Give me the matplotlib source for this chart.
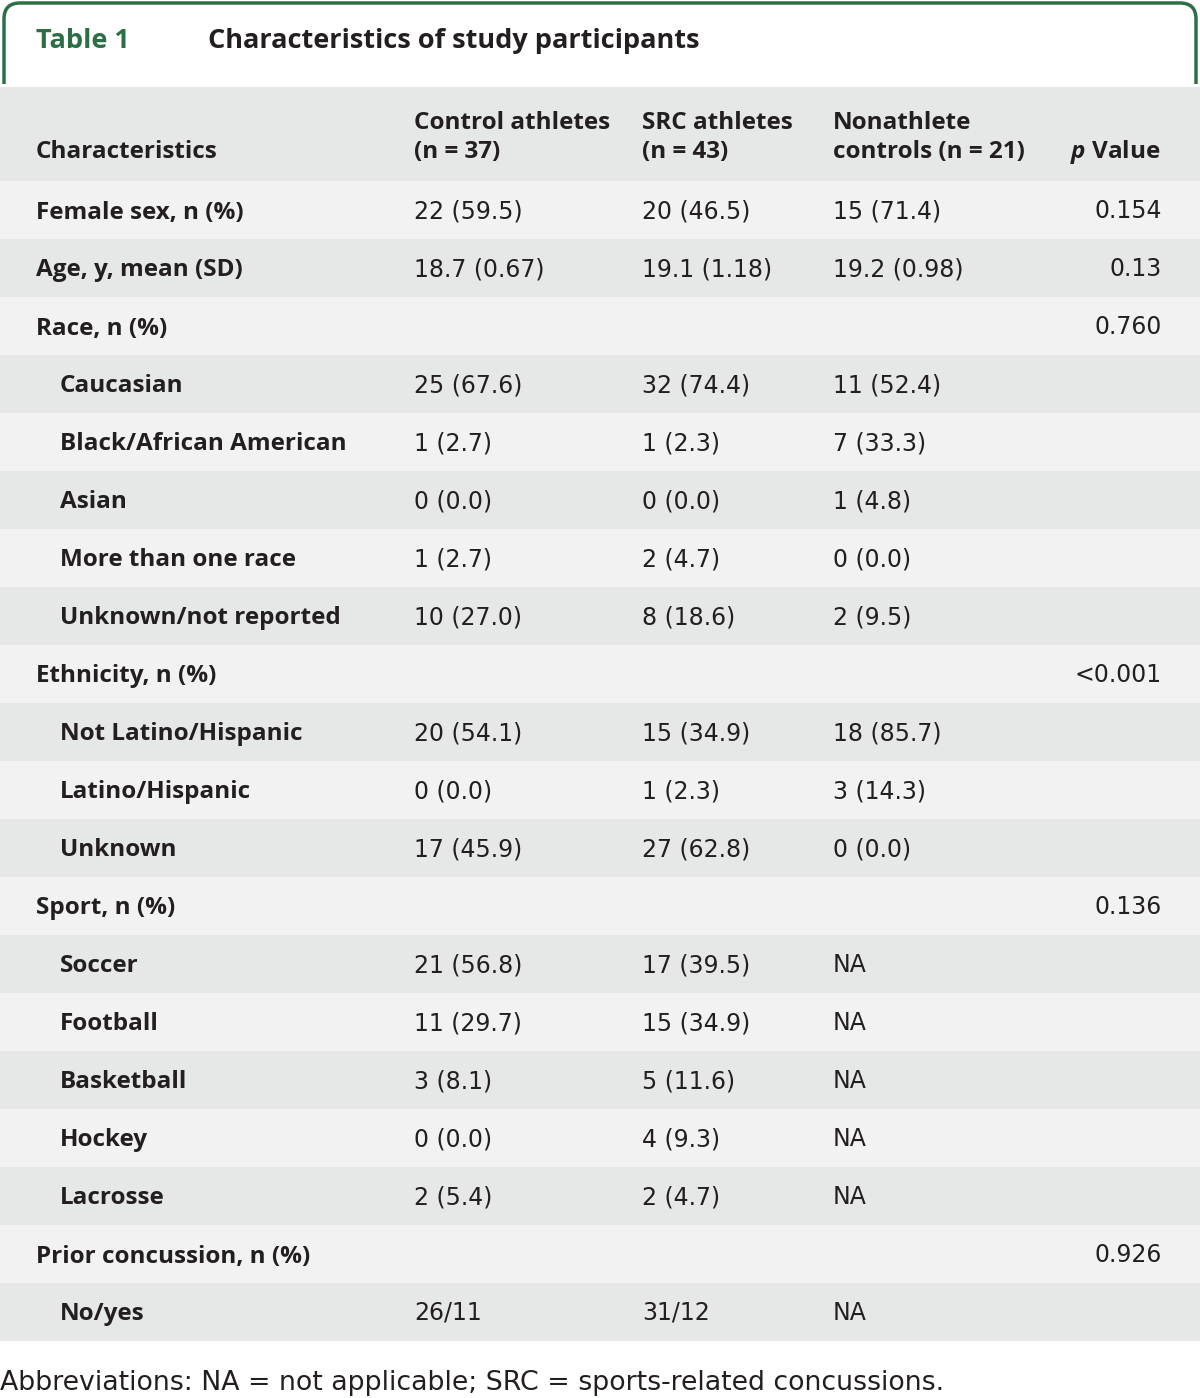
import matplotlib.pyplot as plt
from matplotlib.patches import Rectangle, FancyBboxPatch

title_num = "Table 1"
title_text = "Characteristics of study participants"
col_heads = ["Control athletes\n(n = 37)", "SRC athletes\n(n = 43)", "Nonathlete\ncontrols (n = 21)"]
row_labels = [
    "Female sex, n (%)", "Age, y, mean (SD)", "Race, n (%)", "Caucasian",
    "Black/African American", "Asian", "More than one race", "Unknown/not reported",
    "Ethnicity, n (%)", "Not Latino/Hispanic", "Latino/Hispanic", "Unknown",
    "Sport, n (%)", "Soccer", "Football", "Basketball", "Hockey", "Lacrosse",
    "Prior concussion, n (%)", "No/yes",
]
indented = [False, False, False, True, True, True, True, True,
            False, True, True, True, False, True, True, True, True, True,
            False, True]
control = ["22 (59.5)", "18.7 (0.67)", "", "25 (67.6)", "1 (2.7)", "0 (0.0)", "1 (2.7)",
           "10 (27.0)", "", "20 (54.1)", "0 (0.0)", "17 (45.9)", "", "21 (56.8)",
           "11 (29.7)", "3 (8.1)", "0 (0.0)", "2 (5.4)", "", "26/11"]
src = ["20 (46.5)", "19.1 (1.18)", "", "32 (74.4)", "1 (2.3)", "0 (0.0)", "2 (4.7)",
       "8 (18.6)", "", "15 (34.9)", "1 (2.3)", "27 (62.8)", "", "17 (39.5)",
       "15 (34.9)", "5 (11.6)", "4 (9.3)", "2 (4.7)", "", "31/12"]
nonathlete = ["15 (71.4)", "19.2 (0.98)", "", "11 (52.4)", "7 (33.3)", "1 (4.8)", "0 (0.0)",
              "2 (9.5)", "", "18 (85.7)", "3 (14.3)", "0 (0.0)", "", "NA",
              "NA", "NA", "NA", "NA", "", "NA"]
p_values = ["0.154", "0.13", "0.760", "", "", "", "", "", "<0.001", "", "", "",
            "0.136", "", "", "", "", "", "0.926", ""]
footnote = "Abbreviations: NA = not applicable; SRC = sports-related concussions."

plt.rcParams['mathtext.fontset'] = 'custom'
plt.rcParams['mathtext.it'] = 'Open Sans:italic:bold'

W, H = 1200, 1398
fig = plt.figure(figsize=(W / 100, H / 100), dpi=100)
ax = fig.add_axes([0, 0, 1, 1])
ax.set_xlim(0, W)
ax.set_ylim(H, 0)
ax.axis('off')

green = '#2c6e46'
dark = '#231f20'
light_bg = '#f2f2f2'
dark_bg = '#e6e7e7'
bold_font = 'Open Sans'
reg_font = 'DejaVu Sans'
fs_lab = 17.5
fs_val = 17

# title tab
tab = FancyBboxPatch((4, 3), W - 8, 150, boxstyle="round,pad=0,rounding_size=16",
                     facecolor='white', edgecolor=green, linewidth=2.5)
ax.add_patch(tab)
ax.add_patch(Rectangle((0, 84), W, 80, facecolor='white', edgecolor='none'))
ax.text(36, 41, title_num, color=green, fontsize=19.5, fontweight='bold',
        family=bold_font, va='center')
ax.text(208, 41, title_text, color=dark, fontsize=19.5, fontweight='bold',
        family=bold_font, va='center')

# header
ax.add_patch(Rectangle((0, 87), W, 94, facecolor=dark_bg, edgecolor='none'))
col_x = [414, 642, 833]
ax.text(36, 152, "Characteristics", color=dark, fontsize=fs_lab, fontweight='bold',
        family=bold_font, va='center')
for x, h in zip(col_x, col_heads):
    l1, l2 = h.split('\n')
    ax.text(x, 123, l1, color=dark, fontsize=fs_lab, fontweight='bold',
            family=bold_font, va='center')
    ax.text(x, 152, l2, color=dark, fontsize=fs_lab, fontweight='bold',
            family=bold_font, va='center')
ax.text(1161, 152, r"$p$ Value", color=dark, fontsize=fs_lab, fontweight='bold',
        family=bold_font, va='center', ha='right')

# body rows
top = 181
rh = 58
for i, lab in enumerate(row_labels):
    y0 = top + i * rh
    ax.add_patch(Rectangle((0, y0), W, rh, facecolor=light_bg if i % 2 == 0 else dark_bg,
                           edgecolor='none'))
    yc = y0 + rh / 2 + 1
    ax.text(60 if indented[i] else 36, yc + 1.5, lab, color=dark, fontsize=fs_lab,
            fontweight='bold', family=bold_font, va='center')
    for x, vals in zip(col_x, [control, src, nonathlete]):
        ax.text(x, yc, vals[i], color=dark, fontsize=fs_val, family=reg_font, va='center')
    ax.text(1162, yc, p_values[i], color=dark, fontsize=fs_val, family=reg_font,
            va='center', ha='right')

ax.text(0, 1383, footnote, color=dark, fontsize=19.3, family=reg_font, va='center')

fig.savefig('out.png', dpi=100)
